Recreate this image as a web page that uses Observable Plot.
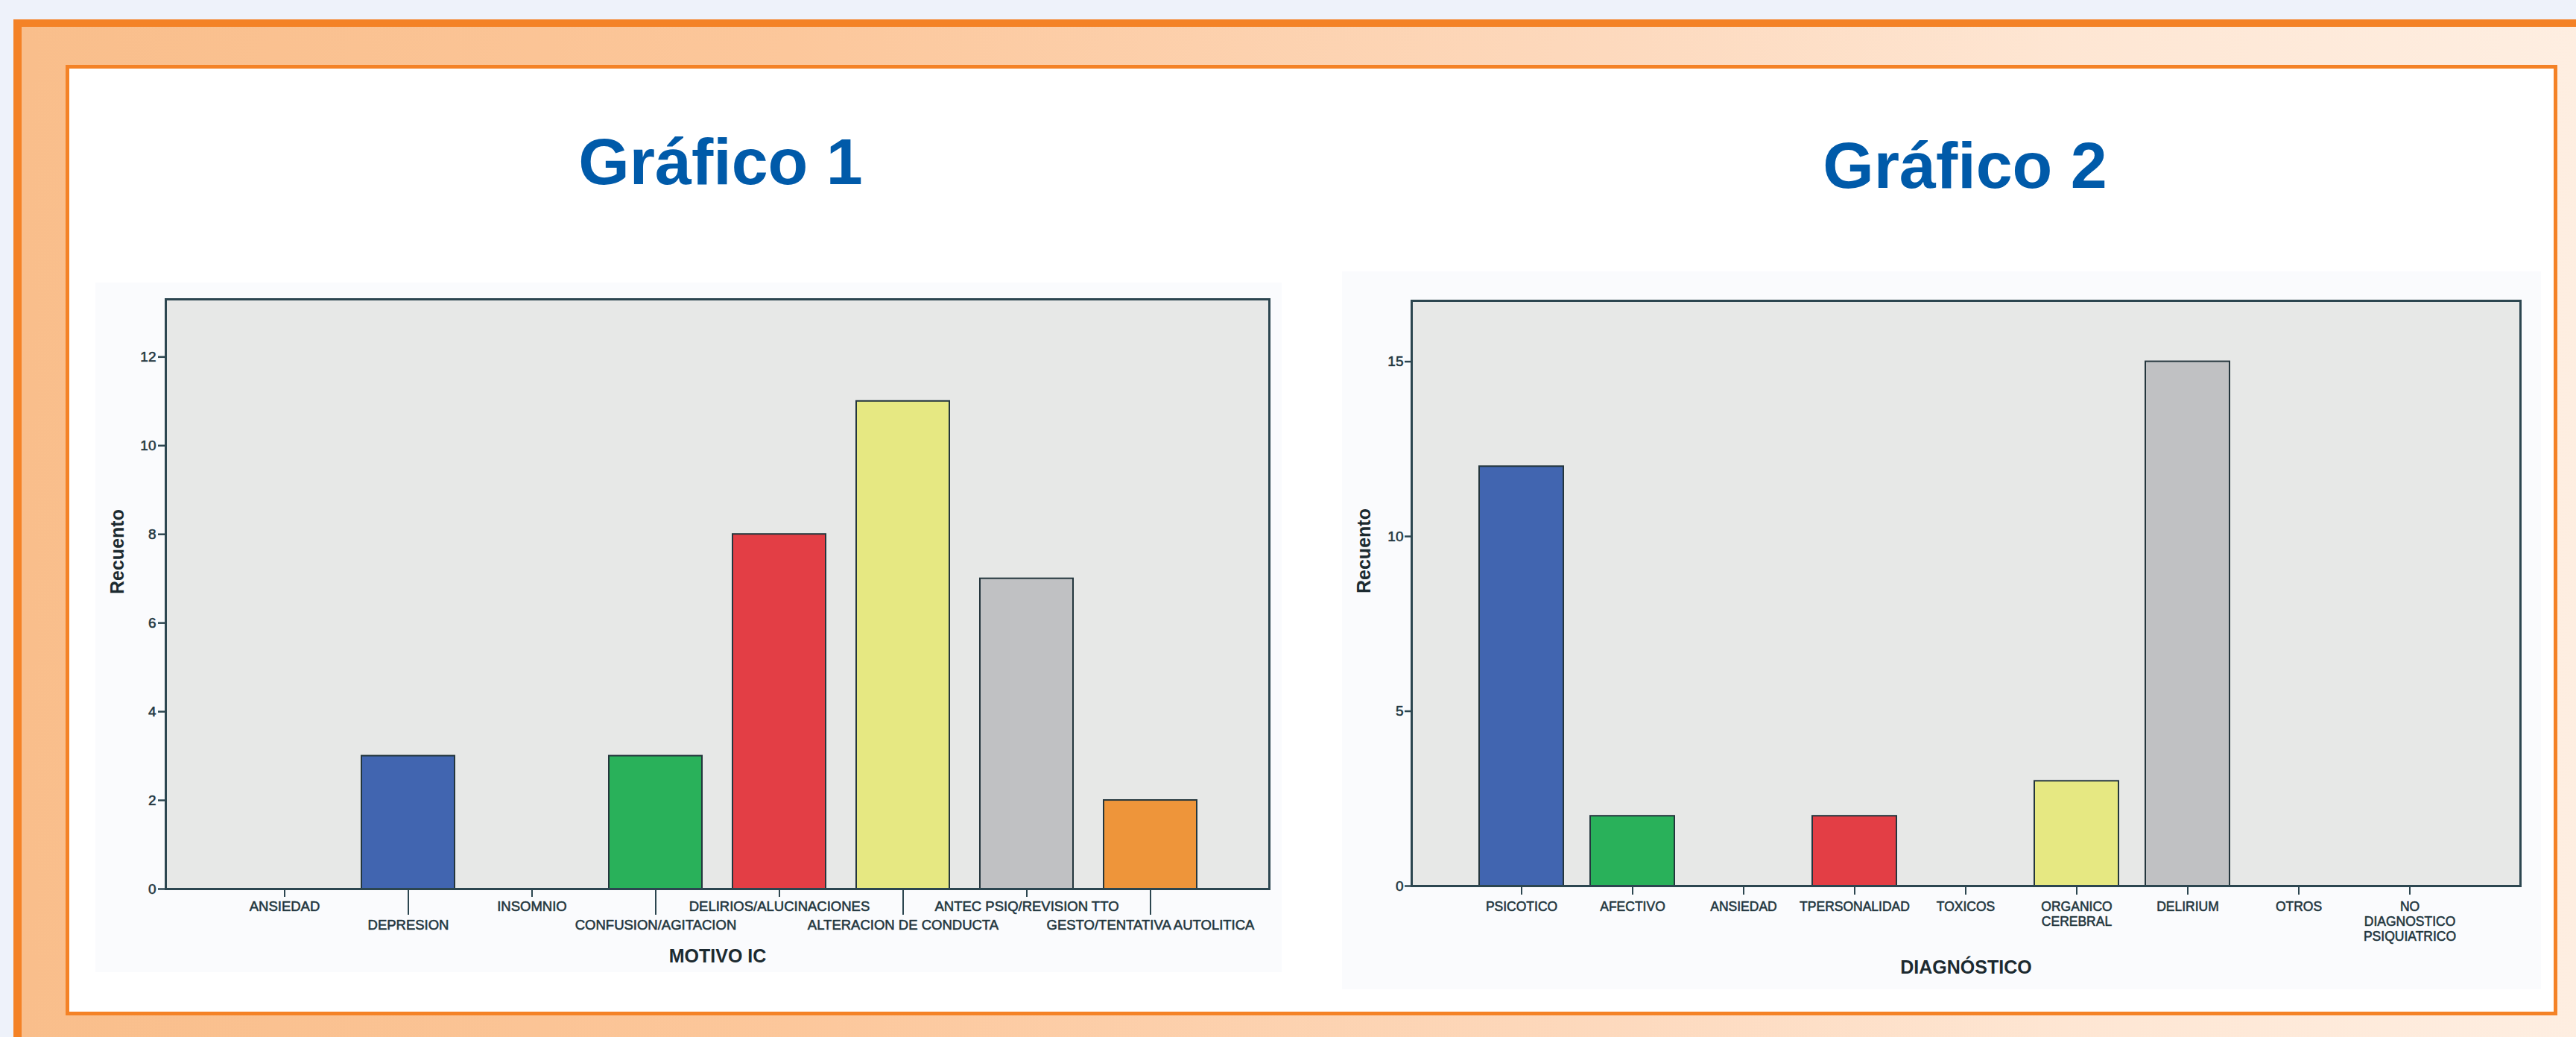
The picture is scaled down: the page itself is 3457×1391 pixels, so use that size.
<!DOCTYPE html>
<html>
<head>
<meta charset="utf-8">
<script src="https://cdn.jsdelivr.net/npm/d3@7"></script>
<script src="https://cdn.jsdelivr.net/npm/@observablehq/plot@0.6"></script>
<style>
  html, body { margin: 0; padding: 0; }
  body { width: 3457px; height: 1391px; overflow: hidden; background: #eef2fa; position: relative; font-family: "Liberation Sans", Arial, sans-serif; }
  #outer { position: absolute; left: 18px; top: 26px; width: 3439px; height: 1365px; box-sizing: border-box;
           border-top: 10px solid #f48226; border-left: 11px solid #f48226;
           background: linear-gradient(to right, #f9be8b 0%, #fcc79b 30%, #fdd9bd 62%, #fee6d3 80%, #feeee1 100%); }
  #inner { position: absolute; left: 88px; top: 87px; width: 3344px; height: 1275px; box-sizing: border-box;
           border: 5px solid #f48226; background: #ffffff; }
  .title { position: absolute; width: 800px; text-align: center; font-size: 88px; font-weight: bold; line-height: 88px; color: #005aa9; }
  .chart { position: absolute; }
</style>
</head>
<body>
<div id="outer"></div>
<div id="inner"></div>
<div class="title" style="left:567px; top:173px;">Gráfico 1</div>
<div class="title" style="left:2237px; top:178px;">Gráfico 2</div>
<div class="chart" id="c1" style="left:128px; top:379px;"></div>
<div class="chart" id="c2" style="left:1801px; top:364px;"></div>
<script>
// ---- Data: Gráfico 1 ----
const motivoCats = ["ANSIEDAD", "DEPRESION", "INSOMNIO", "CONFUSION/AGITACION", "DELIRIOS/ALUCINACIONES", "ALTERACION DE CONDUCTA", "ANTEC PSIQ/REVISION TTO", "GESTO/TENTATIVA AUTOLITICA"];
const motivoCounts = [0, 3, 0, 3, 8, 11, 7, 2];
const motivoTicks = [0, 2, 4, 6, 8, 10, 12];
const motivoXLabel = "MOTIVO IC";

// ---- Data: Gráfico 2 ----
const diagCats = ["PSICOTICO", "AFECTIVO", "ANSIEDAD", "TPERSONALIDAD", "TOXICOS", "ORGANICO\nCEREBRAL", "DELIRIUM", "OTROS", "NO\nDIAGNOSTICO\nPSIQUIATRICO"];
const diagCounts = [12, 2, 0, 2, 0, 3, 15, 0, 0];
const diagTicks = [0, 5, 10, 15];
const diagXLabel = "DIAGNÓSTICO";

const yLabel = "Recuento";

// ---- Styles ----
const palette1 = ["#7b8fc8", "#4165b0", "#9a9a9a", "#29b15a", "#e33e45", "#e6e882", "#c0c1c3", "#ee953a"];
const palette2 = ["#4165b0", "#29b15a", "#9a9a9a", "#e33e45", "#9a9a9a", "#e6e882", "#c0c1c3", "#9a9a9a", "#9a9a9a"];
const axisColor = "#2c4650";
const textColor = "#22363e";
const font = "'Liberation Sans', Arial, sans-serif";
const txt = {fill: textColor, textStroke: textColor, textStrokeWidth: 0.7, textStrokeOpacity: 0.8};

const data1 = motivoCats.map((c, i) => ({cat: c, n: motivoCounts[i]}));
const data2 = diagCats.map((c, i) => ({cat: c, n: diagCounts[i]}));

const chart1 = Plot.plot({
  width: 1592, height: 925,
  marginLeft: 94, marginRight: 17, marginTop: 22, marginBottom: 112,
  style: {background: "#fafbfd", fontFamily: font, overflow: "visible"},
  x: {type: "band", domain: motivoCats, paddingInner: 0.25, paddingOuter: 0.56, label: null},
  y: {domain: [0, 13.3], label: null},
  color: {domain: motivoCats, range: palette1},
  marks: [
    Plot.frame({fill: "#e7e8e7"}),
    Plot.barY(data1, {x: "cat", y: "n", fill: "cat", stroke: "#24363d", strokeWidth: 2}),
    Plot.frame({stroke: axisColor, strokeWidth: 3}),
    Plot.axisY(motivoTicks, {tickSize: 10, tickPadding: 3, fontSize: 19, tickFormat: d => String(d), color: axisColor, ...txt, strokeWidth: 2.5, label: null}),
    Plot.axisX(motivoCats.filter((d, i) => i % 2 === 0), {tickSize: 11, tickPadding: 5, fontSize: 18.5, color: axisColor, ...txt, strokeWidth: 2, label: null}),
    Plot.axisX(motivoCats.filter((d, i) => i % 2 === 1), {tickSize: 35, tickPadding: 6, fontSize: 18.5, color: axisColor, ...txt, strokeWidth: 2, label: null}),
    Plot.text([yLabel], {text: d => d, frameAnchor: "left", dx: -65, rotate: -90, fontSize: 25, fontWeight: "bold", fill: "#1c2a30"}),
    Plot.text([motivoXLabel], {text: d => d, frameAnchor: "bottom", dy: 81, lineAnchor: "top", fontSize: 25, fontWeight: "bold", fill: "#1c2a30"})
  ]
});
document.getElementById("c1").append(chart1);

const chart2 = Plot.plot({
  width: 1609, height: 963,
  marginLeft: 93, marginRight: 28, marginTop: 39, marginBottom: 139,
  style: {background: "#fafbfd", fontFamily: font, overflow: "visible"},
  x: {type: "band", domain: diagCats, paddingInner: 0.24, paddingOuter: 0.61, label: null},
  y: {domain: [0, 16.74], label: null},
  color: {domain: diagCats, range: palette2},
  marks: [
    Plot.frame({fill: "#e7e8e7"}),
    Plot.barY(data2, {x: "cat", y: "n", fill: "cat", stroke: "#24363d", strokeWidth: 2}),
    Plot.frame({stroke: axisColor, strokeWidth: 3}),
    Plot.axisY(diagTicks, {tickSize: 9, tickPadding: 2, fontSize: 19, tickFormat: d => String(d), color: axisColor, ...txt, strokeWidth: 2.5, label: null}),
    Plot.axisX(diagCats, {tickSize: 12, tickPadding: 8, fontSize: 17.5, lineHeight: 1.12, color: axisColor, ...txt, strokeWidth: 2, label: null}),
    Plot.text([yLabel], {text: d => d, frameAnchor: "left", dx: -64, rotate: -90, fontSize: 25, fontWeight: "bold", fill: "#1c2a30"}),
    Plot.text([diagXLabel], {text: d => d, frameAnchor: "bottom", dy: 100, lineAnchor: "top", fontSize: 25, fontWeight: "bold", fill: "#1c2a30"})
  ]
});
document.getElementById("c2").append(chart2);
</script>
</body>
</html>
